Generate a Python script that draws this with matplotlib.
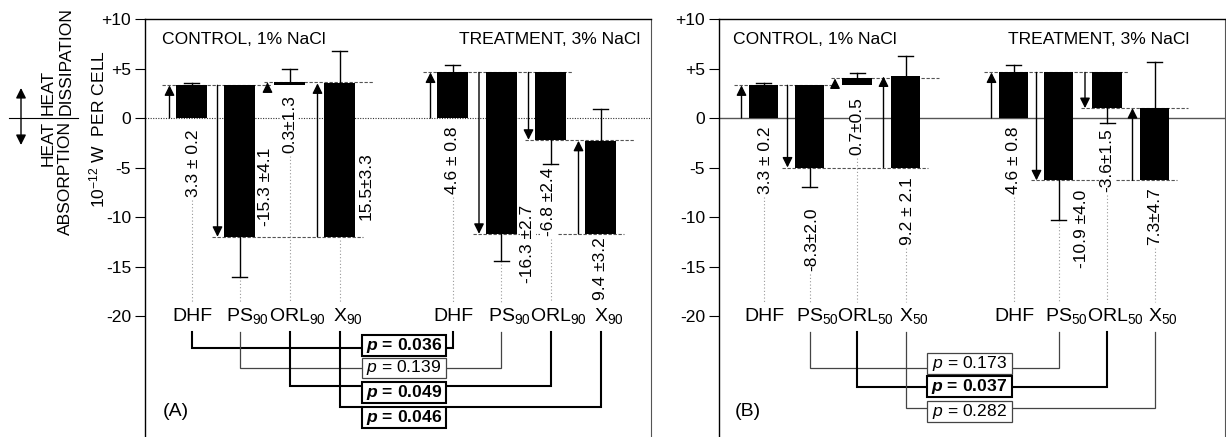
import numpy as np
import matplotlib
matplotlib.use('Agg')
import matplotlib.pyplot as plt
from matplotlib.lines import Line2D
from matplotlib.patches import Rectangle, FancyArrowPatch

plt.rcParams['font.family'] = ['Liberation Sans', 'DejaVu Sans']
plt.rcParams['mathtext.fontset'] = 'custom'
plt.rcParams['mathtext.rm'] = 'Liberation Sans'
plt.rcParams['mathtext.it'] = 'Liberation Sans:italic'
plt.rcParams['mathtext.bf'] = 'Liberation Sans:bold'
plt.rcParams['mathtext.bfit'] = 'Liberation Sans:italic:bold'
plt.rcParams['mathtext.default'] = 'regular'

# ---------------- data (10^-12 W per cell) ----------------
cats_a = ['DHF', 'PS$_{90}$', 'ORL$_{90}$', 'X$_{90}$']
cats_b = ['DHF', 'PS$_{50}$', 'ORL$_{50}$', 'X$_{50}$']

# panel A - control, 1% NaCl
a_ctrl_base = [0, 3.3, 3.3, -12.0]
a_ctrl_delta = [3.3, -15.3, 0.3, 15.5]
a_ctrl_err = [0.2, 4.1, 1.3, 3.3]
a_ctrl_text = ['3.3 ± 0.2', '-15.3 ±4.1', '0.3±1.3', '15.5±3.3']
# panel A - treatment, 3% NaCl
a_trt_base = [0, 4.6, 4.6, -11.7]
a_trt_delta = [4.6, -16.3, -6.8, 9.4]
a_trt_err = [0.8, 2.7, 2.4, 3.2]
a_trt_text = ['4.6 ± 0.8', '-16.3 ±2.7', '-6.8 ±2.4', '9.4 ±3.2']

# panel B - control, 1% NaCl
b_ctrl_base = [0, 3.3, 3.3, -5.0]
b_ctrl_delta = [3.3, -8.3, 0.7, 9.2]
b_ctrl_err = [0.2, 2.0, 0.5, 2.1]
b_ctrl_text = ['3.3 ± 0.2', '-8.3±2.0', '0.7±0.5', '9.2 ± 2.1']
# panel B - treatment, 3% NaCl
b_trt_base = [0, 4.6, 4.6, -6.3]
b_trt_delta = [4.6, -10.9, -3.6, 7.3]
b_trt_err = [0.8, 4.0, 1.5, 4.7]
b_trt_text = ['4.6 ± 0.8', '-10.9 ±4.0', '-3.6±1.5', '7.3±4.7']

# p-values (control vs treatment of the same component)
a_pvals = ['0.036', '0.139', '0.049', '0.046']
a_pbold = [True, False, True, True]
a_pidx = [0, 1, 2, 3]
b_pvals = ['0.173', '0.037', '0.282']
b_pbold = [False, True, False]
b_pidx = [1, 2, 3]

yticks = [10, 5, 0, -5, -10, -15, -20]
ytick_labels = ['+10', '+5', '0', '-5', '-10', '-15', '-20']

# ---------------- layout ----------------
W, H = 1226, 437
FS = 12.6


def fx(px):
    return px / W


def fy(py):
    return 1 - py / H


fig = plt.figure(figsize=(W / 100, H / 100), dpi=100)
ax_a = fig.add_axes([fx(145), 0, 506 / W, 418 / H])
ax_b = fig.add_axes([fx(719), 0, 506 / W, 418 / H])
YMIN, YMAX = -32.22, 10
CAT_Y = -20.0
BRACKET_TOP = -21.6
LEADER_END = -18.6

for ax in (ax_a, ax_b):
    ax.set_xlim(0, 50.6)
    ax.set_ylim(YMIN, YMAX)
    ax.set_xticks([])
    ax.set_yticks(yticks)
    ax.set_yticklabels(ytick_labels)
    ax.tick_params(axis='y', length=7, width=0.8, pad=3, labelsize=FS, colors='black')
    ax.spines['bottom'].set_visible(False)
    ax.spines['left'].set_linewidth(1.0)
    ax.spines['top'].set_linewidth(1.0)
    ax.spines['right'].set_color('#555555')
    ax.spines['right'].set_linewidth(0.8)

ax_a.axhline(0, color='#333333', lw=0.8, ls=(0, (1, 1.3)), zorder=1)
ax_b.axhline(0, color='#555555', lw=1.0, zorder=1)

renderer = fig.canvas.get_renderer()


def draw_group(ax, xs, w, base, delta, err, texts, lab_dx, lab_top, cats):
    xs = np.asarray(xs, float)
    base = np.asarray(base, float)
    delta = np.asarray(delta, float)
    err = np.asarray(err, float)
    end = base + delta
    arrow_x = xs - 2.2

    # dashed level guides
    x1_end = arrow_x[2] + 0.3 if delta[2] > 0 else xs[2] + w / 2 + 0.6
    guides = [(end[0], arrow_x[0] - 0.8, x1_end),
              (end[1], arrow_x[1] - 0.6, xs[3] + w / 2 + 0.8),
              (end[2], arrow_x[2] - 0.4, xs[3] + w / 2 + 1.9)]
    for lev, xa, xb in guides:
        ax.plot([xa, xb], [lev, lev], color='#555555', lw=0.8,
                ls=(0, (3, 1.5)), zorder=1)

    ax.bar(xs, delta, bottom=base, width=w, color='black', zorder=3)

    for i in range(len(xs)):
        s = 1 if delta[i] > 0 else -1
        tip = end[i] + s * err[i]
        ax.plot([xs[i], xs[i]], [end[i], tip], color='black', lw=1, zorder=2)
        ax.plot([xs[i] - 0.75, xs[i] + 0.75], [tip, tip], color='black', lw=1, zorder=2)
        ax.annotate('', xy=(arrow_x[i], end[i]), xytext=(arrow_x[i], base[i]),
                    arrowprops=dict(arrowstyle='-|>,head_length=0.5,head_width=0.25',
                                    color='black', lw=1, mutation_scale=12,
                                    shrinkA=0, shrinkB=0), zorder=3)
        t = ax.text(xs[i] + lab_dx[i], lab_top[i], texts[i], rotation=90,
                    ha='center', va='top', fontsize=12.5, zorder=4,
                    bbox=dict(fc='white', ec='none', pad=0.5))
        # dotted leader down to the category label
        if abs(lab_dx[i]) < 1:
            bb = t.get_window_extent(renderer)
            start = ax.transData.inverted().transform((0, bb.y0))[1] - 0.3
        else:
            start = min(base[i], end[i], tip) - 0.3
        if start > LEADER_END:
            ax.plot([xs[i], xs[i]], [start, LEADER_END], color='#999999', lw=0.8,
                    ls=(0, (1, 2)), zorder=1)
        ax.text(xs[i] + (0.1 if i == 0 else 0.8), CAT_Y, cats[i], fontsize=14,
                ha='center', va='center')


def draw_pvals(ax, ctrl_x, trt_x, idx, pvals, bold, levels, centers, bx0, bx1, bh):
    for k in range(len(pvals)):
        i = idx[k]
        lw = 1.5 if bold[k] else 0.9
        col = 'black' if bold[k] else '#444444'
        lev = levels[k]
        ax.plot([ctrl_x[i], ctrl_x[i], bx0], [BRACKET_TOP, lev, lev], color=col, lw=lw,
                zorder=1, solid_joinstyle='miter')
        ax.plot([bx1, trt_x[i], trt_x[i]], [lev, lev, BRACKET_TOP], color=col, lw=lw,
                zorder=1, solid_joinstyle='miter')
        ax.add_patch(Rectangle((bx0, centers[k] - bh / 2), bx1 - bx0, bh, fc='white',
                               ec=col, lw=lw, zorder=2))
        if bold[k]:
            s = r'$\mathbfit{p}$ = ' + pvals[k]
            ax.text((bx0 + bx1) / 2, centers[k], s, fontsize=FS, fontweight='bold',
                    ha='center', va='center', zorder=3)
        else:
            s = r'$\mathit{p}$ = ' + pvals[k]
            ax.text((bx0 + bx1) / 2, centers[k], s, fontsize=FS,
                    ha='center', va='center', zorder=3)


# panel A
a_ctrl_x = [4.65, 9.45, 14.45, 19.45]
a_trt_x = [30.75, 35.6, 40.55, 45.55]
draw_group(ax_a, a_ctrl_x, 3.1, a_ctrl_base, a_ctrl_delta, a_ctrl_err, a_ctrl_text,
           [0.15, 2.65, 0, 2.65], [-1.2, -3.0, 2.3, -3.5], cats_a)
draw_group(ax_a, a_trt_x, 3.1, a_trt_base, a_trt_delta, a_trt_err, a_trt_text,
           [0, 2.7, -0.2, 0], [-0.9, -8.8, -5.05, -12.0], cats_a)
draw_pvals(ax_a, a_ctrl_x, a_trt_x, a_pidx, a_pvals, a_pbold,
           [-23.2, -25.25, -27.1, -29.2], [-23.0, -25.25, -27.7, -30.25], 21.7, 30.1, 2.1)

# panel B
b_ctrl_x = [4.45, 9.05, 13.8, 18.65]
b_trt_x = [29.45, 33.95, 38.8, 43.55]
draw_group(ax_b, b_ctrl_x, 2.95, b_ctrl_base, b_ctrl_delta, b_ctrl_err, b_ctrl_text,
           [0.15, 0.25, 0, 0.25], [-0.9, -9.0, 2.1, -5.95], cats_b)
draw_group(ax_b, b_trt_x, 2.95, b_trt_base, b_trt_delta, b_trt_err, b_trt_text,
           [0, 2.35, 0, 0], [-0.9, -7.25, -1.0, -6.95], cats_b)
draw_pvals(ax_b, b_ctrl_x, b_trt_x, b_pidx, b_pvals, b_pbold,
           [-25.25, -27.15, -29.3], [-24.8, -27.15, -29.65], 20.8, 29.3, 2.1)

# group titles and panel letters
ax_a.text(1.7, 7.9, 'CONTROL, 1% NaCl', fontsize=FS, ha='left', va='center')
ax_a.text(49.5, 7.9, 'TREATMENT, 3% NaCl', fontsize=FS, ha='right', va='center')
ax_b.text(1.4, 7.9, 'CONTROL, 1% NaCl', fontsize=FS, ha='left', va='center')
ax_b.text(47.0, 7.9, 'TREATMENT, 3% NaCl', fontsize=FS, ha='right', va='center')
ax_a.text(1.8, -29.6, '(A)', fontsize=14, ha='left', va='center')
ax_b.text(1.6, -29.6, '(B)', fontsize=14, ha='left', va='center')

# y-axis annotation on the far left
fig.text(fx(97), fy(129), '10$^{-12}$ W  PER CELL', rotation=90, fontsize=FS,
         ha='center', va='center')
fig.text(fx(57), fy(115), 'HEAT\nDISSIPATION', rotation=90, fontsize=FS,
         ha='center', va='bottom', multialignment='left', linespacing=1.2)
fig.text(fx(57), fy(121), 'HEAT\nABSORPTION', rotation=90, fontsize=FS,
         ha='center', va='top', multialignment='right', linespacing=1.2)
fig.add_artist(Line2D([fx(9), fx(78)], [fy(118), fy(118)], color='black', lw=0.8))
fig.add_artist(FancyArrowPatch(
    (fx(21), fy(145)), (fx(21), fy(88)), transform=fig.transFigure,
    arrowstyle='<|-|>,head_length=0.5,head_width=0.25', mutation_scale=12,
    color='black', lw=1, shrinkA=0, shrinkB=0))

fig.savefig('out.png', dpi=100)
